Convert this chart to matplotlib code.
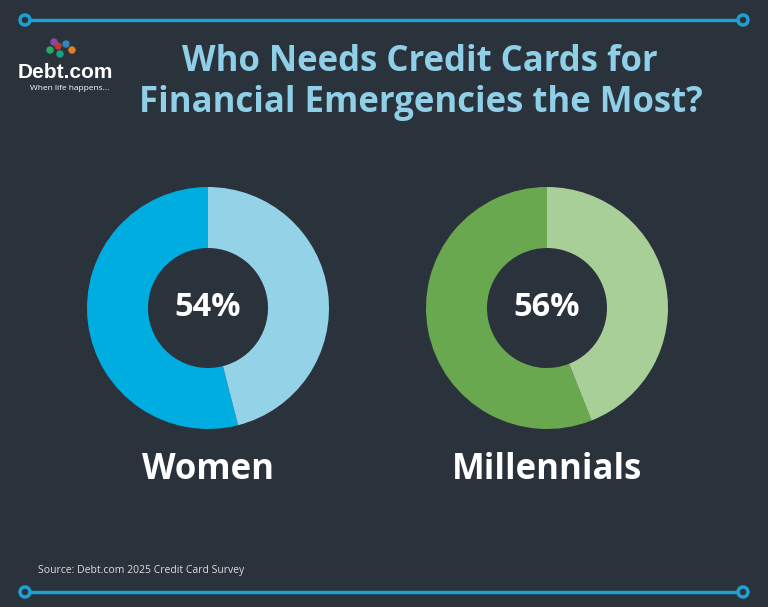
import matplotlib.pyplot as plt
from matplotlib.patches import Circle

W, H = 768, 607
bg = '#2a323b'

groups = ['Women', 'Millennials']
shares = [54, 56]
dark_colors = ['#00ade0', '#6aa84f']
light_colors = ['#94d2e8', '#a8cf98']
centers_x = [208, 547]

fig = plt.figure(figsize=(W / 100, H / 100), dpi=100, facecolor=bg)
ax = fig.add_axes([0, 0, 1, 1])
ax.set_facecolor(bg)

def yy(y):
    return H - y

for g, s, dc, lc, cx in zip(groups, shares, dark_colors, light_colors, centers_x):
    ax.pie([s, 100 - s], colors=[dc, lc], startangle=90, counterclock=True,
           center=(cx, yy(308)), radius=121,
           wedgeprops=dict(width=61, linewidth=0))
    ax.text(cx, yy(308), f'{s}%', color='white', fontsize=23.5, fontweight='bold',
            family='Open Sans', ha='center', va='center')
    ax.text(cx, yy(470), g, color='white', fontsize=25, fontweight='bold',
            family='Open Sans', ha='center', va='center')

# top and bottom rules
line_c = '#1ea0d2'
for y in (20, 592):
    ax.plot([25, 743], [yy(y), yy(y)], color=line_c, lw=2.5, zorder=3)
    for x in (25, 743):
        ax.add_patch(Circle((x, yy(y)), 5, facecolor=bg, edgecolor=line_c, lw=2.5, zorder=4))

ax.text(420, yy(62), 'Who Needs Credit Cards for', color='#8fd0e8', fontsize=25,
        fontweight='bold', family='Open Sans', ha='center', va='center')
ax.text(421, yy(103), 'Financial Emergencies the Most?', color='#8fd0e8', fontsize=25,
        fontweight='bold', family='Open Sans', ha='center', va='center')

# logo
for (dx, dy, c) in [(58, 46, '#c0392b'), (66, 44, '#2e86c1'), (50, 50, '#27ae60'),
                    (72, 50, '#e67e22'), (60, 54, '#16a085'), (54, 42, '#8e44ad')]:
    ax.add_patch(Circle((dx, yy(dy)), 3, color=c))
ax.text(18, yy(73), 'Debt.com', color='white', fontsize=15, fontweight='bold',
        family='Liberation Sans', ha='left', va='center')
ax.text(30, yy(89), 'When life happens...', color='white', fontsize=6,
        family='Open Sans', ha='left', va='center')

ax.text(38, yy(570), 'Source: Debt.com 2025 Credit Card Survey', color='#dddddd',
        fontsize=7.5, family='Open Sans', ha='left', va='center')

ax.set_xlim(0, W)
ax.set_ylim(0, H)
ax.set_aspect('auto')
ax.axis('off')
fig.savefig('out.png', dpi=100, facecolor=bg)
